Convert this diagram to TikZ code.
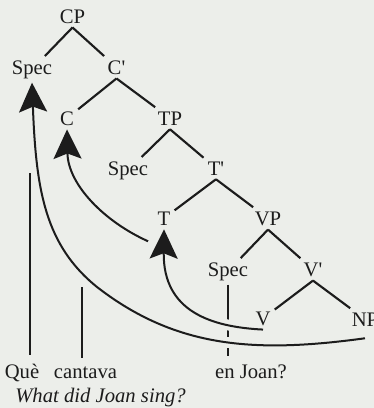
\documentclass[tikz,border=0pt]{standalone}
\usepackage{fontspec}
\setmainfont{Liberation Serif}
\usetikzlibrary{arrows.meta}
\pgfdeclarelayer{back}
\pgfsetlayers{back,main}
\definecolor{paper}{RGB}{236,238,234}
\definecolor{ink}{RGB}{28,28,28}

\begin{document}
\begin{tikzpicture}[x=0.75pt, y=-0.75pt,
        every node/.style={font=\fontsize{15.5}{18}\selectfont, text=ink, inner sep=3pt, anchor=base},
        branch/.style={draw=ink, line width=1.6pt},
        trace/.style={draw=ink, line width=1.6pt},
        halo/.style={preaction={draw=paper, line width=8pt}},
        move/.style={draw=ink, line width=1.5pt, -{Stealth[length=22pt, width=21pt, inset=4pt]}}]
                \useasboundingbox (0,0) rectangle (374,408);

                % tree
                \node (cp) at (72.5,23) {CP};
                \node (spec1) at (32,74) {Spec};
                \node (cbar) at (116.5,74) {C\textquotesingle};
                \node (c) at (67,125) {C};
                \node (tp) at (170,125) {TP};
                \node (spec2) at (128,175) {Spec};
                \node (tbar) at (216,175) {T\textquotesingle};
                \node (t) at (164,225) {T};
                \node (vp) at (268,225) {VP};
                \node (spec3) at (228,276) {Spec};
                \node (vbar) at (313,276) {V\textquotesingle};
                \node (v) at (263,325) {V};
                \node (np) at (365,326) {NP};

                % sentence
                \node[inner sep=6pt] (que) at (22,378) {Què};
                \node[inner sep=6pt] (cantava) at (85.5,378) {cantava};
                \node[inner sep=6pt] (enjoan) at (251,378) {en Joan?};
                \node[font=\fontsize{15.5}{18}\selectfont\itshape] (gloss) at (100.5,402) {What did Joan sing?};

                \path
                    (cp.south) edge[branch] (spec1)
                    (cp.south) edge[branch] (cbar)
                    (cbar.south) edge[branch] (c)
                    (cbar.south) edge[branch] (tp)
                    (tp.south) edge[branch] (spec2)
                    (tp.south) edge[branch] (tbar)
                    (tbar.south) edge[branch] (t)
                    (tbar.south) edge[branch] (vp)
                    (vp.south) edge[branch] (spec3)
                    (vp.south) edge[branch] (vbar)
                    (vbar.south) edge[branch] (v)
                    (vbar.south) edge[branch] (np)
                    ;

                \begin{pgfonlayer}{back}
                    \fill[paper] (0,0) rectangle (374,408);
                    \coordinate (quetop) at (30,173);
                    \coordinate (cantop) at (82,287);
                    \draw[trace] (quetop) -- (quetop |- que.north);
                    \draw[trace] (cantop) -- (cantop |- cantava.north);
                    \draw[trace] (spec3.south) -- (spec3.south |- enjoan.north);

                    % movements
                    \path[halo] (v.south) .. controls (212,327) and (163,312) .. (t.south);
                    \path[halo] ([yshift=-6pt]np.south) .. controls (257,353) and (177,349) .. (97,287);
                    \draw[move] (v.south) .. controls (212,327) and (163,312) .. (t.south);
                    \draw[move] ([xshift=-4pt,yshift=-9pt]t.south west) .. controls (105,222) and (68,185) .. (c.south);
                    \draw[move] ([yshift=-6pt]np.south) .. controls (257,353) and (177,349) .. (97,287)
                        .. controls (45,245) and (36,190) .. (spec1.south);
                \end{pgfonlayer}
            \end{tikzpicture}
\end{document}
